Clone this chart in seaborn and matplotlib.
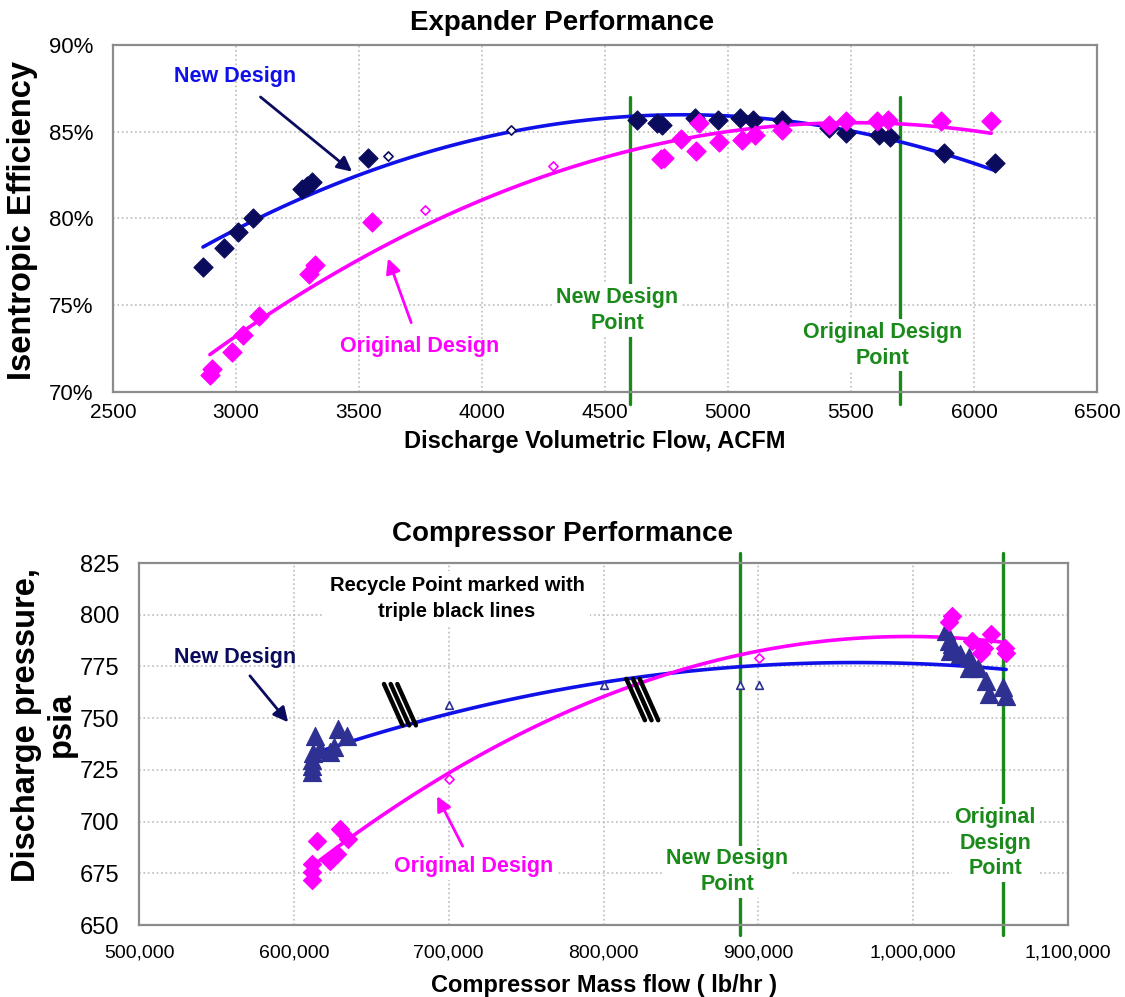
import numpy as np
import matplotlib
matplotlib.use('Agg')
import matplotlib.pyplot as plt
import seaborn as sns
from matplotlib.ticker import FuncFormatter

# Expander: discharge volumetric flow (ACFM) vs isentropic efficiency (%)
new_flow = [2866, 2951, 3008, 3069, 3268, 3288, 3308, 3536, 4632, 4710, 4730,
            4864, 4958, 5047, 5100, 5221, 5412, 5481, 5615, 5660, 5880, 6087]
new_eff = [77.2, 78.3, 79.2, 80.0, 81.7, 81.9, 82.1, 83.5, 85.7, 85.5, 85.4,
           85.8, 85.7, 85.8, 85.7, 85.7, 85.2, 84.9, 84.8, 84.7, 83.8, 83.2]
new_open_flow = [3617, 4120]
new_open_eff = [83.6, 85.1]

orig_flow = [2894, 2902, 2983, 3028, 3093, 3296, 3320, 3552, 4726, 4740, 4811, 4872,
             4884, 4965, 5055, 5108, 5221, 5412, 5481, 5607, 5652, 5867, 6070]
orig_eff = [71.0, 71.3, 72.3, 73.3, 74.4, 76.8, 77.3, 79.8, 83.4, 83.5, 84.6, 83.9,
            85.5, 84.4, 84.5, 84.8, 85.1, 85.4, 85.6, 85.6, 85.7, 85.6, 85.6]
orig_open_flow = [3767, 4287]
orig_open_eff = [80.5, 83.0]

exp_design_flow = [4600, 5700]
exp_design_names = ['New Design\nPoint', 'Original Design\nPoint']

# Compressor: mass flow (lb/hr) vs discharge pressure (psia)
new_mass = [611800, 611800, 611800, 612500, 613700, 617000, 623000, 626000, 628500, 634000,
            1021000, 1023000, 1024000, 1025000, 1030000, 1036000, 1036000, 1042000,
            1047000, 1049000, 1058000, 1060000]
new_press = [723.8, 726.7, 730.0, 733.0, 741.2, 735.0, 733.5, 736.0, 744.6, 741.2,
             792.0, 787.4, 782.6, 786.0, 781.0, 779.7, 774.4, 774.4,
             768.2, 761.5, 765.3, 760.5]
new_small_mass = [700000, 800000, 888000, 900500]
new_small_press = [756.6, 766.2, 765.8, 765.8]

orig_mass = [611800, 611800, 611800, 615000, 623400, 627900, 629800, 635000,
             1023000, 1025000, 1038000, 1044000, 1046000, 1050000, 1059000, 1060000]
orig_press = [671.6, 675.7, 679.5, 690.6, 681.0, 684.4, 696.4, 691.6,
              796.6, 799.5, 787.4, 781.6, 784.1, 790.8, 784.1, 781.6]
orig_small_mass = [700000, 900500]
orig_small_press = [720.5, 779.2]

comp_design_mass = [888000, 1058000]
comp_design_names = ['New Design\nPoint', 'Original\nDesign\nPoint']
recycle_mass = [668500, 825000]
recycle_press = [756.5, 759.0]

NAVY = '#0b0b5e'
TRI = '#2e3192'
BLUE = '#1010e8'
MAGENTA = '#ff00ff'
GREEN = '#1a8a1a'
GRID = '#bcbcbc'

sns.set_style('white')
plt.rcParams['font.family'] = ['Liberation Sans', 'DejaVu Sans']
plt.rcParams['text.color'] = 'black'
plt.rcParams['xtick.color'] = 'black'
plt.rcParams['ytick.color'] = 'black'

fig = plt.figure(figsize=(11.25, 9.97), dpi=100)
ax1 = fig.add_axes([0.1004, 0.6068, 0.8747, 0.3481])
ax2 = fig.add_axes([0.1236, 0.0722, 0.8258, 0.3631])


def style_axes(ax):
    ax.grid(True, color=GRID, linestyle=':', linewidth=1.2)
    ax.set_axisbelow(True)
    for sp in ax.spines.values():
        sp.set_color('#8c8c8c')
        sp.set_linewidth(1.6)
    ax.tick_params(length=0, labelcolor='black')
    ax.set_xlabel('')
    ax.set_ylabel('')


# ---- top: expander ----
sns.regplot(x=new_flow + new_open_flow, y=new_eff + new_open_eff, order=2, ci=None,
            scatter=False, ax=ax1, line_kws=dict(color=BLUE, lw=2.6, zorder=3))
sns.regplot(x=orig_flow + orig_open_flow, y=orig_eff + orig_open_eff, order=2, ci=None,
            scatter=False, ax=ax1, line_kws=dict(color=MAGENTA, lw=2.6, zorder=3))
sns.scatterplot(x=new_flow, y=new_eff, marker='D', s=95, color=NAVY, edgecolor=NAVY,
                linewidth=0.8, ax=ax1, zorder=4)
sns.scatterplot(x=orig_flow, y=orig_eff, marker='D', s=95, color=MAGENTA, edgecolor=MAGENTA,
                linewidth=0.8, ax=ax1, zorder=4)
sns.scatterplot(x=new_open_flow, y=new_open_eff, marker='D', s=22, color='white',
                edgecolor=NAVY, linewidth=1.2, ax=ax1, zorder=4)
sns.scatterplot(x=orig_open_flow, y=orig_open_eff, marker='D', s=22, color='white',
                edgecolor=MAGENTA, linewidth=1.2, ax=ax1, zorder=4)

ax1.set_xlim(2500, 6500)
ax1.set_ylim(70, 90)
ax1.set_xticks(np.arange(2500, 6501, 500))
ax1.set_yticks(np.arange(70, 91, 5))
ax1.yaxis.set_major_formatter(FuncFormatter(lambda v, p: f'{v:.0f}%'))
style_axes(ax1)
ax1.tick_params(axis='x', labelsize=15, pad=8)
ax1.tick_params(axis='y', labelsize=16, pad=14)

for xd, name, xt, yt in zip(exp_design_flow, exp_design_names, [4549, 5630], [74.7, 72.7]):
    ax1.plot([xd, xd], [69.3, 87.0], color=GREEN, lw=2.4, clip_on=False, zorder=2)
    ax1.text(xt, yt, name, color=GREEN, fontsize=15.5, fontweight='bold', ha='center',
             va='center', linespacing=1.3, zorder=5,
             bbox=dict(facecolor='white', edgecolor='none', pad=2))

ax1.annotate('New Design', xy=(3472, 82.7), xytext=(2996, 88.2), color=BLUE,
             fontsize=15.5, fontweight='bold', ha='center', va='center',
             arrowprops=dict(arrowstyle='-|>', color=NAVY, lw=2, mutation_scale=22,
                             shrinkA=8, shrinkB=0))
ax1.annotate('Original Design', xy=(3618, 77.7), xytext=(3748, 72.6), color=MAGENTA,
             fontsize=15.5, fontweight='bold', ha='center', va='center',
             arrowprops=dict(arrowstyle='-|>', color=MAGENTA, lw=2, mutation_scale=22,
                             shrinkA=8, shrinkB=0))

fig.text(0.4996, 0.977, 'Expander Performance', fontsize=20, fontweight='bold',
         ha='center', va='center')
fig.text(0.529, 0.5567, 'Discharge Volumetric Flow, ACFM', fontsize=17, fontweight='bold',
         ha='center', va='center')
fig.text(0.0196, 0.779, 'Isentropic Efficiency', fontsize=23.5, fontweight='bold',
         rotation=90, ha='center', va='center')

# ---- bottom: compressor ----
sns.regplot(x=new_mass + new_small_mass, y=new_press + new_small_press, order=2, ci=None,
            scatter=False, ax=ax2, line_kws=dict(color=BLUE, lw=2.6, zorder=3))
sns.regplot(x=orig_mass + orig_small_mass, y=orig_press + orig_small_press, order=2, ci=None,
            scatter=False, ax=ax2, line_kws=dict(color=MAGENTA, lw=2.6, zorder=3))
sns.scatterplot(x=new_mass, y=new_press, marker='^', s=170, color=TRI, edgecolor=TRI,
                linewidth=0.8, ax=ax2, zorder=4)
sns.scatterplot(x=orig_mass, y=orig_press, marker='D', s=85, color=MAGENTA, edgecolor=MAGENTA,
                linewidth=0.8, ax=ax2, zorder=5)
sns.scatterplot(x=new_small_mass, y=new_small_press, marker='^', s=30, color='white',
                edgecolor=TRI, linewidth=1.2, ax=ax2, zorder=4)
sns.scatterplot(x=orig_small_mass, y=orig_small_press, marker='D', s=22, color='white',
                edgecolor=MAGENTA, linewidth=1.2, ax=ax2, zorder=4)

# triple black lines at the recycle points
for xr, yr in zip(recycle_mass, recycle_press):
    for k in (-1, 0, 1):
        off = k * 4300
        ax2.plot([xr - 6000 + off, xr + 6000 + off], [yr + 10, yr - 10], color='black',
                 lw=3.2, solid_capstyle='round', zorder=6)

ax2.set_xlim(500000, 1100000)
ax2.set_ylim(650, 825)
ax2.set_xticks(np.arange(500000, 1100001, 100000))
ax2.set_yticks(np.arange(650, 826, 25))
ax2.xaxis.set_major_formatter(FuncFormatter(lambda v, p: f'{v:,.0f}'))
style_axes(ax2)
ax2.tick_params(axis='x', labelsize=14, pad=14)
ax2.tick_params(axis='y', labelsize=17, pad=14)

for xd, name, xt, yt in zip(comp_design_mass, comp_design_names,
                            [879800, 1053000], [675.7, 689.6]):
    ax2.plot([xd, xd], [645, 829.8], color=GREEN, lw=2.4, clip_on=False, zorder=2)
    ax2.text(xt, yt, name, color=GREEN, fontsize=15.5, fontweight='bold', ha='center',
             va='center', linespacing=1.3, zorder=5,
             bbox=dict(facecolor='white', edgecolor='none', pad=2))

ax2.text(705400, 807.7, 'Recycle Point marked with\ntriple black lines', fontsize=14.5,
         fontweight='bold', ha='center', va='center', linespacing=1.45,
         bbox=dict(facecolor='white', edgecolor='none', pad=4))
ax2.annotate('New Design', xy=(596300, 748), xytext=(562000, 779.2), color=NAVY,
             fontsize=15.5, fontweight='bold', ha='center', va='center',
             arrowprops=dict(arrowstyle='-|>', color=NAVY, lw=2, mutation_scale=22,
                             shrinkA=4, shrinkB=0))
ax2.annotate('Original Design', xy=(692500, 712.3), xytext=(715800, 678.1), color=MAGENTA,
             fontsize=15.5, fontweight='bold', ha='center', va='center',
             arrowprops=dict(arrowstyle='-|>', color=MAGENTA, lw=2, mutation_scale=22,
                             shrinkA=6, shrinkB=0),
             bbox=dict(facecolor='white', edgecolor='none', pad=2))

fig.text(0.4996, 0.4644, 'Compressor Performance', fontsize=20, fontweight='bold',
         ha='center', va='center')
fig.text(0.537, 0.012, 'Compressor Mass flow ( lb/hr )', fontsize=17, fontweight='bold',
         ha='center', va='center')
fig.text(0.039, 0.273, 'Discharge pressure,\npsia', fontsize=23.5, fontweight='bold',
         rotation=90, ha='center', va='center', linespacing=1.15)

fig.savefig('out.png', dpi=100, facecolor='white')
